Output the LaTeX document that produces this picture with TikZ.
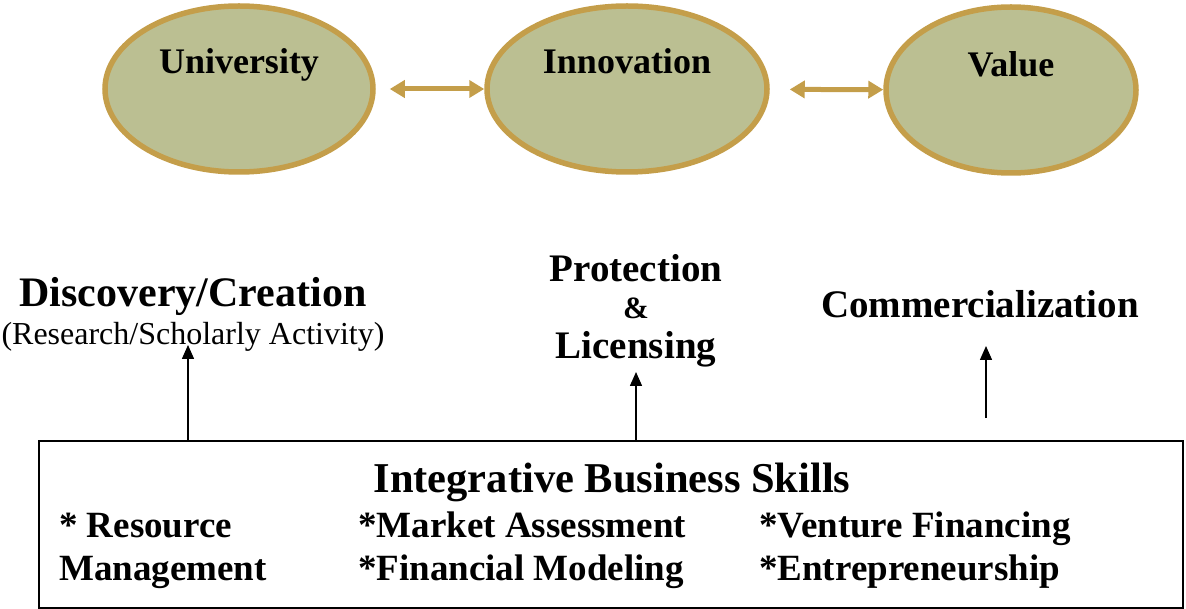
\documentclass[tikz,border=0pt]{standalone}
\usepackage{fontspec}
\setmainfont{Liberation Serif}
\usetikzlibrary{shapes.geometric,arrows.meta}
\definecolor{ellfill}{RGB}{187,191,146}
\definecolor{ellgold}{RGB}{196,158,74}
\tikzset{
  ell/.style={ellipse, draw=ellgold, fill=ellfill, line width=5.5pt, inner sep=0pt},
  elltext/.style={anchor=base, font=\fontsize{36}{40}\selectfont\bfseries, inner sep=0pt},
  goldarrow/.style={draw=ellgold, line width=5pt, {Triangle[length=15pt,width=17pt]}-{Triangle[length=15pt,width=17pt]}},
  blackarrow/.style={draw=black, line width=1.5pt, -{Triangle[length=14pt,width=12pt]}},
  stagetext/.style={anchor=base, font=\fontsize{39}{44}\selectfont\bfseries, inner sep=0pt},
  itemtext/.style={anchor=base west, font=\fontsize{37}{42}\selectfont\bfseries, inner sep=0pt},
  skillbox/.style={draw=black, line width=1.5pt, inner sep=0pt}
}
\begin{document}
\begin{tikzpicture}[x=1pt,y=-1pt]
\useasboundingbox (0,0) rectangle (1186,609);
% ellipses
\node[ell, minimum width=268pt, minimum height=166pt] (univ) at (239,89) {};
\node[ell, minimum width=280pt, minimum height=166pt] (innov) at (627,89) {};
\node[ell, minimum width=250pt, minimum height=166pt] (value) at (1011,90) {};
\node[elltext] (univt) at (239,74) {University};
\node[elltext] (innovt) at (627,74) {Innovation};
\node[elltext] (valuet) at (1011,77) {Value};
\draw[goldarrow, shorten <=14pt] (univ) -- (innov);
\draw[goldarrow, shorten <=20pt] (innov) -- (value);
% stage labels
\node[stagetext, font=\fontsize{42}{46}\selectfont\bfseries] (disc) at (193,307) {Discovery/Creation};
\node[anchor=base, font=\fontsize{32}{36}\selectfont, inner sep=0pt] (research) at (193,345) {(Research/Scholarly Activity)};
\node[stagetext] (prot) at (636,282) {Protection};
\node[anchor=base, font=\fontsize{31}{34}\selectfont\bfseries, inner sep=0pt] (amp) at (636,319) {\&};
\node[stagetext] (lic) at (636,359) {Licensing};
\node[stagetext] (comm) at (980,318) {Commercialization};
% box
\node[skillbox, minimum width=1144pt, minimum height=167pt] (box) at (611,524.5) {};
\node[anchor=base, font=\fontsize{42.5}{46}\selectfont\bfseries, inner sep=0pt] (ibs) at (612,492) {Integrative Business Skills};
\node[itemtext] (i1) at (59,537) {* Resource};
\node[itemtext] (i2) at (59,580) {Management};
\node[itemtext] (i3) at (358,537) {*Market Assessment};
\node[itemtext] (i4) at (358,580) {*Financial Modeling};
\node[itemtext] (i5) at (759,537) {*Venture Financing};
\node[itemtext] (i6) at (759,580) {*Entrepreneurship};
% arrows
\coordinate (a1) at (188,345);
\coordinate (a2) at (636,372);
\coordinate (a3s) at (986,418);
\coordinate (a3) at (986,346);
\draw[blackarrow] (box.north -| a1) -- (a1);
\draw[blackarrow] (box.north -| a2) -- (a2);
\draw[blackarrow] (a3s) -- (a3);
\end{tikzpicture}
\end{document}
